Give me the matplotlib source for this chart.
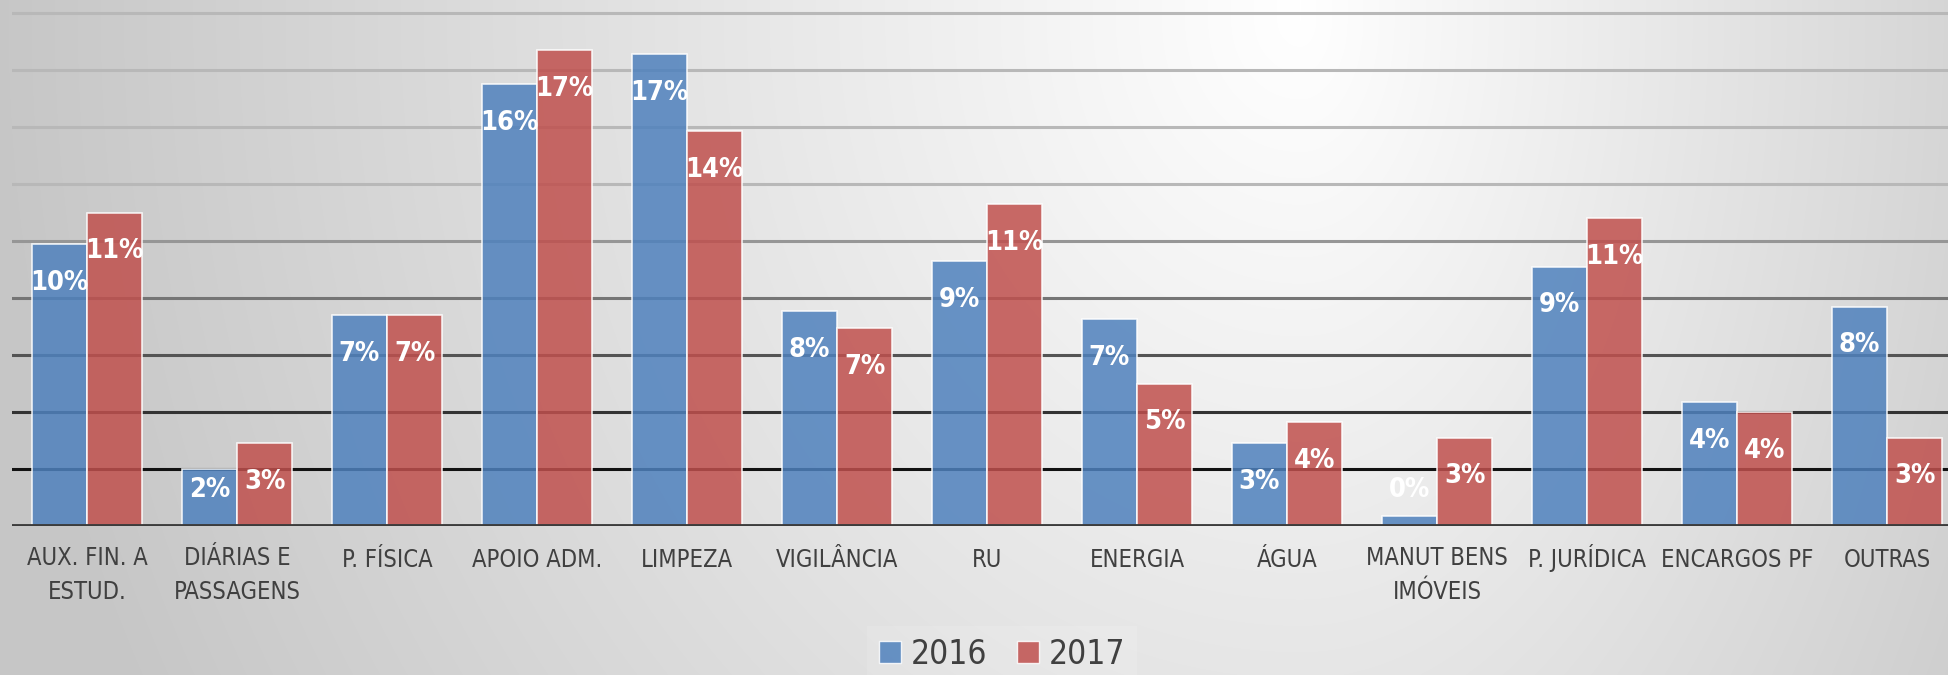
import matplotlib
matplotlib.use("Agg")
import matplotlib.pyplot as plt
import numpy as np
from matplotlib import font_manager
from matplotlib.patches import Patch
from matplotlib.transforms import ScaledTranslation

# categories and share of spending (%) per year
categories = ["AUX. FIN. A\nESTUD.", "DIÁRIAS E\nPASSAGENS", "P. FÍSICA", "APOIO ADM.",
              "LIMPEZA", "VIGILÂNCIA", "RU", "ENERGIA", "ÁGUA", "MANUT BENS\nIMÓVEIS",
              "P. JURÍDICA", "ENCARGOS PF", "OUTRAS"]
vals_2016 = [9.9, 2.0, 7.4, 15.5, 16.55, 7.55, 9.3, 7.25, 2.9, 0.35, 9.1, 4.35, 7.7]
vals_2017 = [11.0, 2.9, 7.4, 16.7, 13.85, 6.95, 11.3, 5.0, 3.65, 3.1, 10.8, 4.0, 3.1]
series_names = ["2016", "2017"]


def find_narrow(bold):
    # look for an installed narrow / condensed face
    for f in font_manager.fontManager.ttflist:
        narrow = ("Narrow" in f.name or "Condensed" in f.name
                  or f.stretch in ("condensed", "semi-condensed", "extra-condensed"))
        w = f.weight if isinstance(f.weight, int) else 400
        if narrow and ((w >= 600) == bold):
            return f.name, f.stretch
    return None, None


names = {f.name for f in font_manager.fontManager.ttflist}
lbl_family, lbl_stretch = find_narrow(True)
if lbl_family is None:
    lbl_family, lbl_stretch = ("Roboto" if "Roboto" in names else "DejaVu Sans"), "normal"
txt_family, txt_stretch = find_narrow(False)
if txt_family is None:
    txt_family, txt_stretch = ("Lato" if "Lato" in names else "DejaVu Sans"), "normal"

W, H = 1948, 675
fig = plt.figure(figsize=(W / 100, H / 100), dpi=100)

# gradient background (lightest near the top, right of centre)
bg = fig.add_axes([0, 0, 1, 1], zorder=-10)
yy, xx = np.mgrid[0:H, 0:W]
dx = xx - 1300.0
kx = np.where(dx < 0, 0.00017, 0.00025)
d = np.sqrt((kx * dx) ** 2 + (0.000149 * np.clip(yy - 20, 0, None)) ** 2)
shade = np.clip(1.0 - d, 0.78, 1.0)
bg.imshow(np.dstack([shade] * 3), aspect="auto", extent=[0, 1, 0, 1])
bg.axis("off")

# main axes
base_px, unit_px = 526, 28.5
ytop = 18.4
left_px, right_px = 12, 1962
ax = fig.add_axes([left_px / W, (H - base_px) / H, (right_px - left_px) / W, ytop * unit_px / H])
ax.set_facecolor("none")

x = np.arange(len(categories))
bw = 0.367
blue = "#4F81BD"
red = "#C0504D"

# gridlines getting darker towards the bottom
levels = np.arange(2, 19, 2)
for lv in levels:
    g = min(0.07 + 0.065 * (lv - 2), 0.72)
    ax.axhline(lv, color=(g, g, g), lw=2.2, zorder=1)

ax.bar(x - bw / 2, vals_2016, bw, color=blue, alpha=0.85,
       edgecolor=(1, 1, 1, 0.55), lw=1.2, zorder=2)
ax.bar(x + bw / 2, vals_2017, bw, color=red, alpha=0.85,
       edgecolor=(1, 1, 1, 0.55), lw=1.2, zorder=2)

for xs, vals in ((x - bw / 2, vals_2016), (x + bw / 2, vals_2017)):
    for xi, v in zip(xs, vals):
        ypos = max(v - 1.36, 1.26)
        ax.text(xi, ypos, f"{v:.0f}%", ha="center", va="center", color="white",
                fontsize=19.5, fontweight="bold", family=lbl_family, fontstretch=lbl_stretch,
                zorder=4)

ax.axhline(0, color="#3c3c3c", lw=3.5, zorder=3)

ax.set_xlim(-0.5, len(categories) - 0.5)
ax.set_ylim(0, ytop)
ax.set_xticks([])
ax.set_yticks([])
for s in ax.spines.values():
    s.set_visible(False)

# category labels, first-line baseline 41 px under the axis
for xi, cat in zip(x, categories):
    nlines = cat.count("\n") + 1
    drop = (41 + 32 * (nlines - 1)) / 100
    tr = ax.get_xaxis_transform() + ScaledTranslation(0, -drop, fig.dpi_scale_trans)
    ax.text(xi, 0, cat, transform=tr, ha="center", va="baseline", multialignment="center",
            fontsize=17, color="#404040", family=txt_family, fontstretch=txt_stretch,
            linespacing=1.55, clip_on=False)

handles = [Patch(facecolor=blue, alpha=0.85, edgecolor=(1, 1, 1, 0.6)),
           Patch(facecolor=red, alpha=0.85, edgecolor=(1, 1, 1, 0.6))]
leg = fig.legend(handles, series_names, loc="center", bbox_to_anchor=(1002 / W, 1 - 654 / H),
                 ncol=2, frameon=True, handlelength=0.65, handleheight=0.65,
                 handletextpad=0.3, columnspacing=0.9, borderpad=0.35,
                 facecolor="white", framealpha=0.12,
                 prop={"family": txt_family, "stretch": txt_stretch, "size": 24})
leg.get_frame().set_edgecolor("none")
leg.get_frame().set_boxstyle("square", pad=0)
for t in leg.get_texts():
    t.set_color("#404040")

fig.savefig("out.png", dpi=100)
